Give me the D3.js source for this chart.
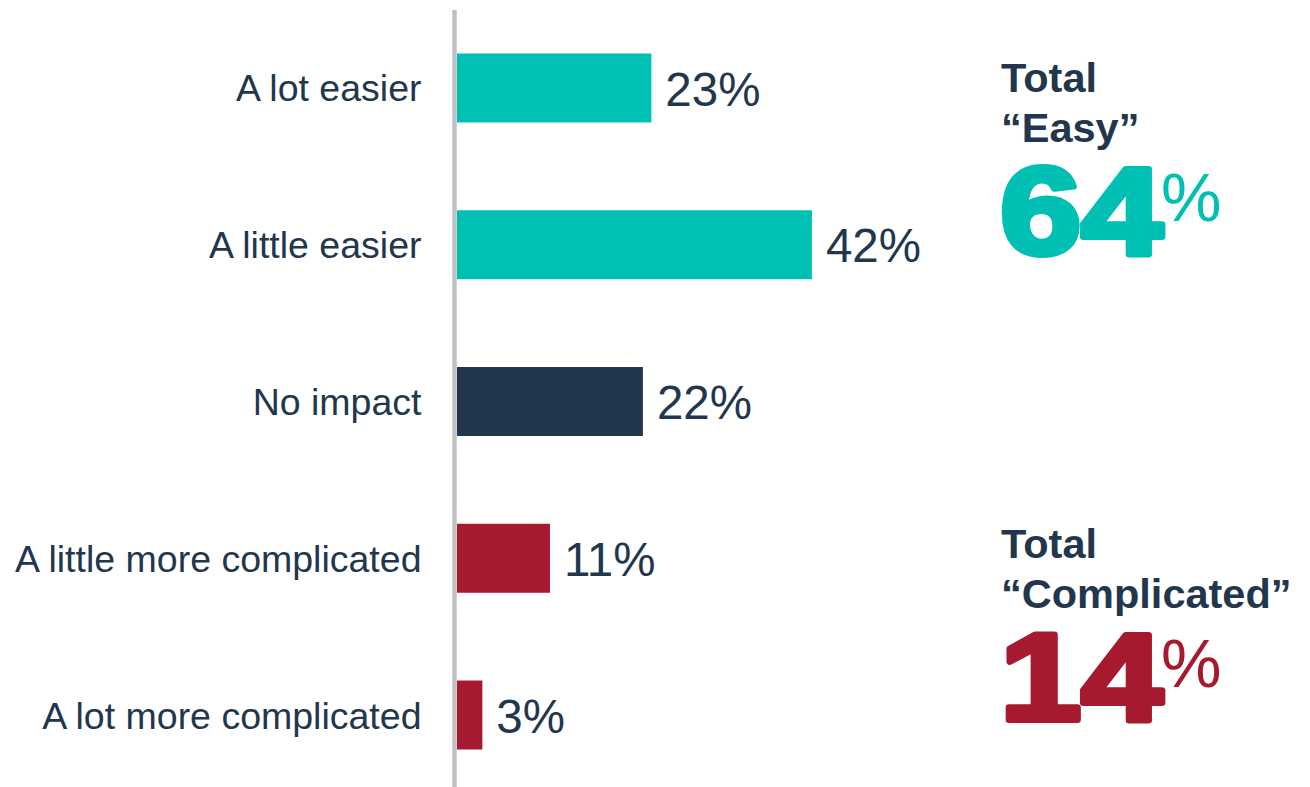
<!DOCTYPE html>
<html>
<head>
<meta charset="utf-8">
<script src="https://cdn.jsdelivr.net/npm/d3@7"></script>
<style>
  html, body { margin: 0; padding: 0; background: #ffffff; }
  svg { display: block; font-family: "Liberation Sans", Arial, sans-serif; }
</style>
</head>
<body>
<svg id="chart" width="1310" height="787"></svg>
<script>
// Survey answers, top to bottom
const categories = [
  "A lot easier",
  "A little easier",
  "No impact",
  "A little more complicated",
  "A lot more complicated"
];
const shares = [23, 42, 22, 11, 3];
const groups = ["easy", "easy", "neutral", "complicated", "complicated"];

// Summary call-outs on the right
const summaryTitles = [["Total", "\u201CEasy\u201D"], ["Total", "\u201CComplicated\u201D"]];
const summaryValues = [64, 14];
const summaryGroups = ["easy", "complicated"];

const palette = { easy: "#00bfb3", neutral: "#22374d", complicated: "#a6192e" };
const ink = "#22374d";

const svg = d3.select("#chart");

const x = d3.scaleLinear().domain([0, 100]).range([457, 457 + 845]);
const y = d3.scaleBand()
  .domain(categories)
  .range([9.6, 793.4])
  .paddingInner(0.56)
  .paddingOuter(0.28);

// Category axis: vertical rule with the answer labels
const axis = d3.axisLeft(y).tickSize(0).tickPadding(33);
const gAxis = svg.append("g")
  .attr("transform", `translate(${x(0) - 2.5},0)`)
  .call(axis);
gAxis.select(".domain").attr("stroke", "#c0c0c0").attr("stroke-width", 4.5)
  .attr("d", `M0,10V787`);
gAxis.selectAll("text")
  .attr("font-family", "Liberation Sans, Arial, sans-serif")
  .attr("font-size", 37.5)
  .attr("fill", ink)
  .attr("dy", "0.36em");

const rows = categories.map((c, i) => ({ c, v: shares[i], g: groups[i] }));

svg.append("g").selectAll("rect")
  .data(rows).join("rect")
  .attr("x", x(0))
  .attr("y", d => y(d.c))
  .attr("width", d => x(d.v) - x(0))
  .attr("height", y.bandwidth())
  .attr("fill", d => palette[d.g]);

svg.append("g").selectAll("text")
  .data(rows).join("text")
  .attr("x", d => x(d.v) + 14)
  .attr("y", d => y(d.c) + y.bandwidth() / 2)
  .attr("dy", "0.37em")
  .attr("font-size", 47.5)
  .attr("fill", ink)
  .text(d => d.v + "%");

// Right-hand totals
const blockTop = [92, 558];
summaryTitles.forEach((lines, k) => {
  const g = svg.append("g");
  lines.forEach((t, j) => {
    g.append("text")
      .attr("x", 1001)
      .attr("y", blockTop[k] + j * 50)
      .attr("font-size", 41.5)
      .attr("font-weight", "bold")
      .attr("fill", ink)
      .text(t);
  });
  const col = palette[summaryGroups[k]];
  g.append("text")
    .attr("transform", `translate(1000,${blockTop[k] + 162}) scale(1.18,1)`)
    .attr("font-size", 124)
    .attr("font-weight", "bold")
    .attr("fill", col)
    .attr("stroke", col)
    .attr("stroke-width", 6)
    .attr("stroke-linejoin", "round")
    .text(summaryValues[k]);
  g.append("text")
    .attr("x", 1161)
    .attr("y", blockTop[k] + 129)
    .attr("font-size", 68)
    .attr("fill", col)
    .text("%");
});
</script>
</body>
</html>
